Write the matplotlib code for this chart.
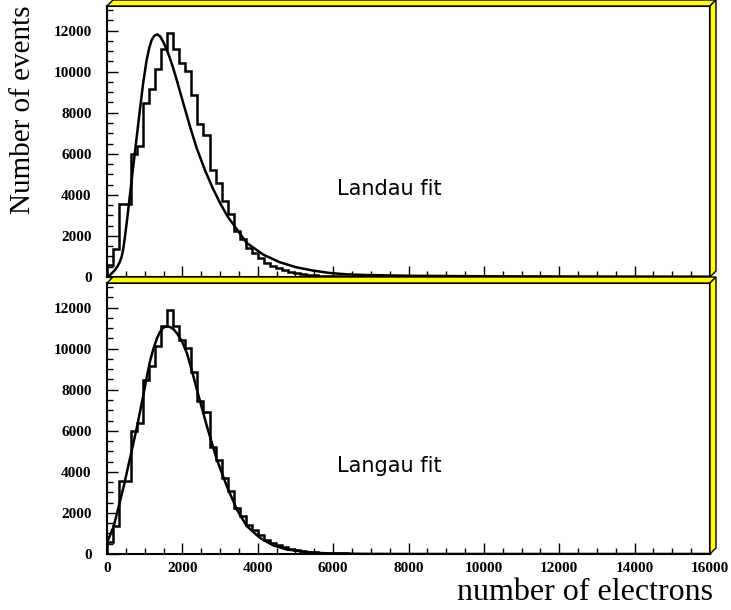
import matplotlib.pyplot as plt
from matplotlib.patches import Polygon
from matplotlib.ticker import MultipleLocator

# histogram: 100 bins of 160 electrons, counts (bins 0..49, rest empty)
bin_width = 160
counts_head = [600, 1350, 3540, 3540, 5970, 6370, 8480, 9160, 10140, 11100,
               11870, 11120, 10400, 10020, 8870, 7440, 6920, 5200, 4560, 3680,
               3050, 2240, 1850, 1410, 1170, 940, 680, 550, 420, 325,
               245, 195, 145, 115, 80, 65, 50, 40, 30, 25,
               20, 15, 12, 10, 8, 6, 5, 4, 3, 2]
counts = counts_head + [0] * (100 - len(counts_head))
edges = [i * bin_width for i in range(101)]

# Landau fit curve (top panel)
landau_x = [0, 60, 125, 200, 273, 330, 390, 430, 477, 530, 580, 650, 720, 800, 880,
            960, 1050, 1120, 1186, 1260, 1334, 1410, 1493, 1580, 1671, 1760, 1849,
            2024, 2202, 2379, 2600, 2800, 3000, 3200, 3440, 3705, 4147, 4589, 5031,
            5473, 5915, 6357, 6799, 8000, 10000, 12000, 14000, 16000]
landau_y = [0, 60, 180, 320, 500, 700, 990, 1350, 1970, 2750, 3540, 4650, 5750, 7000, 8250,
            9450, 10550, 11150, 11550, 11760, 11820, 11720, 11450, 11100, 10650, 10150, 9600,
            8470, 7330, 6280, 5200, 4350, 3600, 2950, 2340, 1660, 1090, 715, 470,
            310, 195, 130, 100, 60, 35, 25, 18, 14]

# Langau fit curve (bottom panel)
langau_x = [0, 180, 312, 444, 622, 799, 974, 1080, 1151, 1240, 1328, 1400, 1470, 1540, 1608,
            1680, 1760, 1857, 1990, 2121, 2250, 2386, 2520, 2651, 2915, 3180, 3444, 3709,
            4061, 4413, 4767, 5032, 5296, 5474, 6000, 7000, 8000, 16000]
langau_y = [550, 1360, 2330, 3300, 4760, 6220, 7840, 8850, 9460, 10050, 10510, 10800, 10980, 11070, 11080,
            11050, 10960, 10750, 10350, 9780, 8950, 8000, 7100, 6220, 4600, 3300, 2170, 1360,
            780, 420, 220, 160, 90, 65, 20, 5, 0, 0]

labels = ['Landau fit', 'Langau fit']

W, H = 731, 610
fig = plt.figure(figsize=(W / 100, H / 100), dpi=100)
ax1 = fig.add_axes([107 / W, 1 - 277 / H, 603 / W, 271 / H])
ax2 = fig.add_axes([107 / W, 1 - 554 / H, 603 / W, 271 / H])

tickfont = {'family': 'Liberation Serif', 'weight': 'bold', 'size': 11}
d = 6  # depth of the yellow 3D frame, pixels

for ax, cx, cy, lab in [(ax1, landau_x, landau_y, labels[0]),
                        (ax2, langau_x, langau_y, labels[1])]:
    ax.stairs(counts, edges, color='black', lw=1.8)
    ax.plot(cx, cy, color='black', lw=1.8)
    ax.set_xlim(0, 16000)
    ax.set_ylim(0, 13200)
    ax.xaxis.set_major_locator(MultipleLocator(2000))
    ax.xaxis.set_minor_locator(MultipleLocator(500))
    ax.yaxis.set_major_locator(MultipleLocator(2000))
    ax.yaxis.set_minor_locator(MultipleLocator(500))
    ax.tick_params(which='both', direction='in', top=False, right=False, width=1)
    ax.tick_params(which='major', length=7.7)
    ax.tick_params(which='minor', length=4)
    ax.tick_params(axis='y', pad=11)
    ax.tick_params(axis='x', pad=6)
    for t in ax.get_xticklabels() + ax.get_yticklabels():
        t.set_fontproperties(tickfont)
    for s in ax.spines.values():
        s.set_linewidth(1.5)
    ax.text(7480, 4300, lab, ha='center', va='center', fontsize=15, family='DejaVu Sans')

    # yellow 3D frame: top face and right face
    x0, y0, x1, y1 = ax.get_position().bounds
    x1 += x0
    y1 += y0
    dx, dy = d / W, d / H
    top = Polygon([(x0, y1), (x1, y1), (x1 + dx, y1 + dy), (x0 + dx, y1 + dy)],
                  closed=True, transform=fig.transFigure, facecolor='#ffff00',
                  edgecolor='black', lw=1)
    right = Polygon([(x1, y0), (x1, y1), (x1 + dx, y1 + dy), (x1 + dx, y0 + dy)],
                    closed=True, transform=fig.transFigure, facecolor='#ffff00',
                    edgecolor='black', lw=1)
    fig.add_artist(top)
    fig.add_artist(right)

ax1.set_xticklabels([])

fig.text(23 / W, 1 - 110 / H, 'Number of events', rotation=90, ha='center', va='center',
         fontsize=21, family='Liberation Serif')
fig.text(713 / W, 10 / H, 'number of electrons', ha='right', va='baseline',
         fontsize=23, family='Liberation Serif')

fig.savefig('out.png', dpi=100)
